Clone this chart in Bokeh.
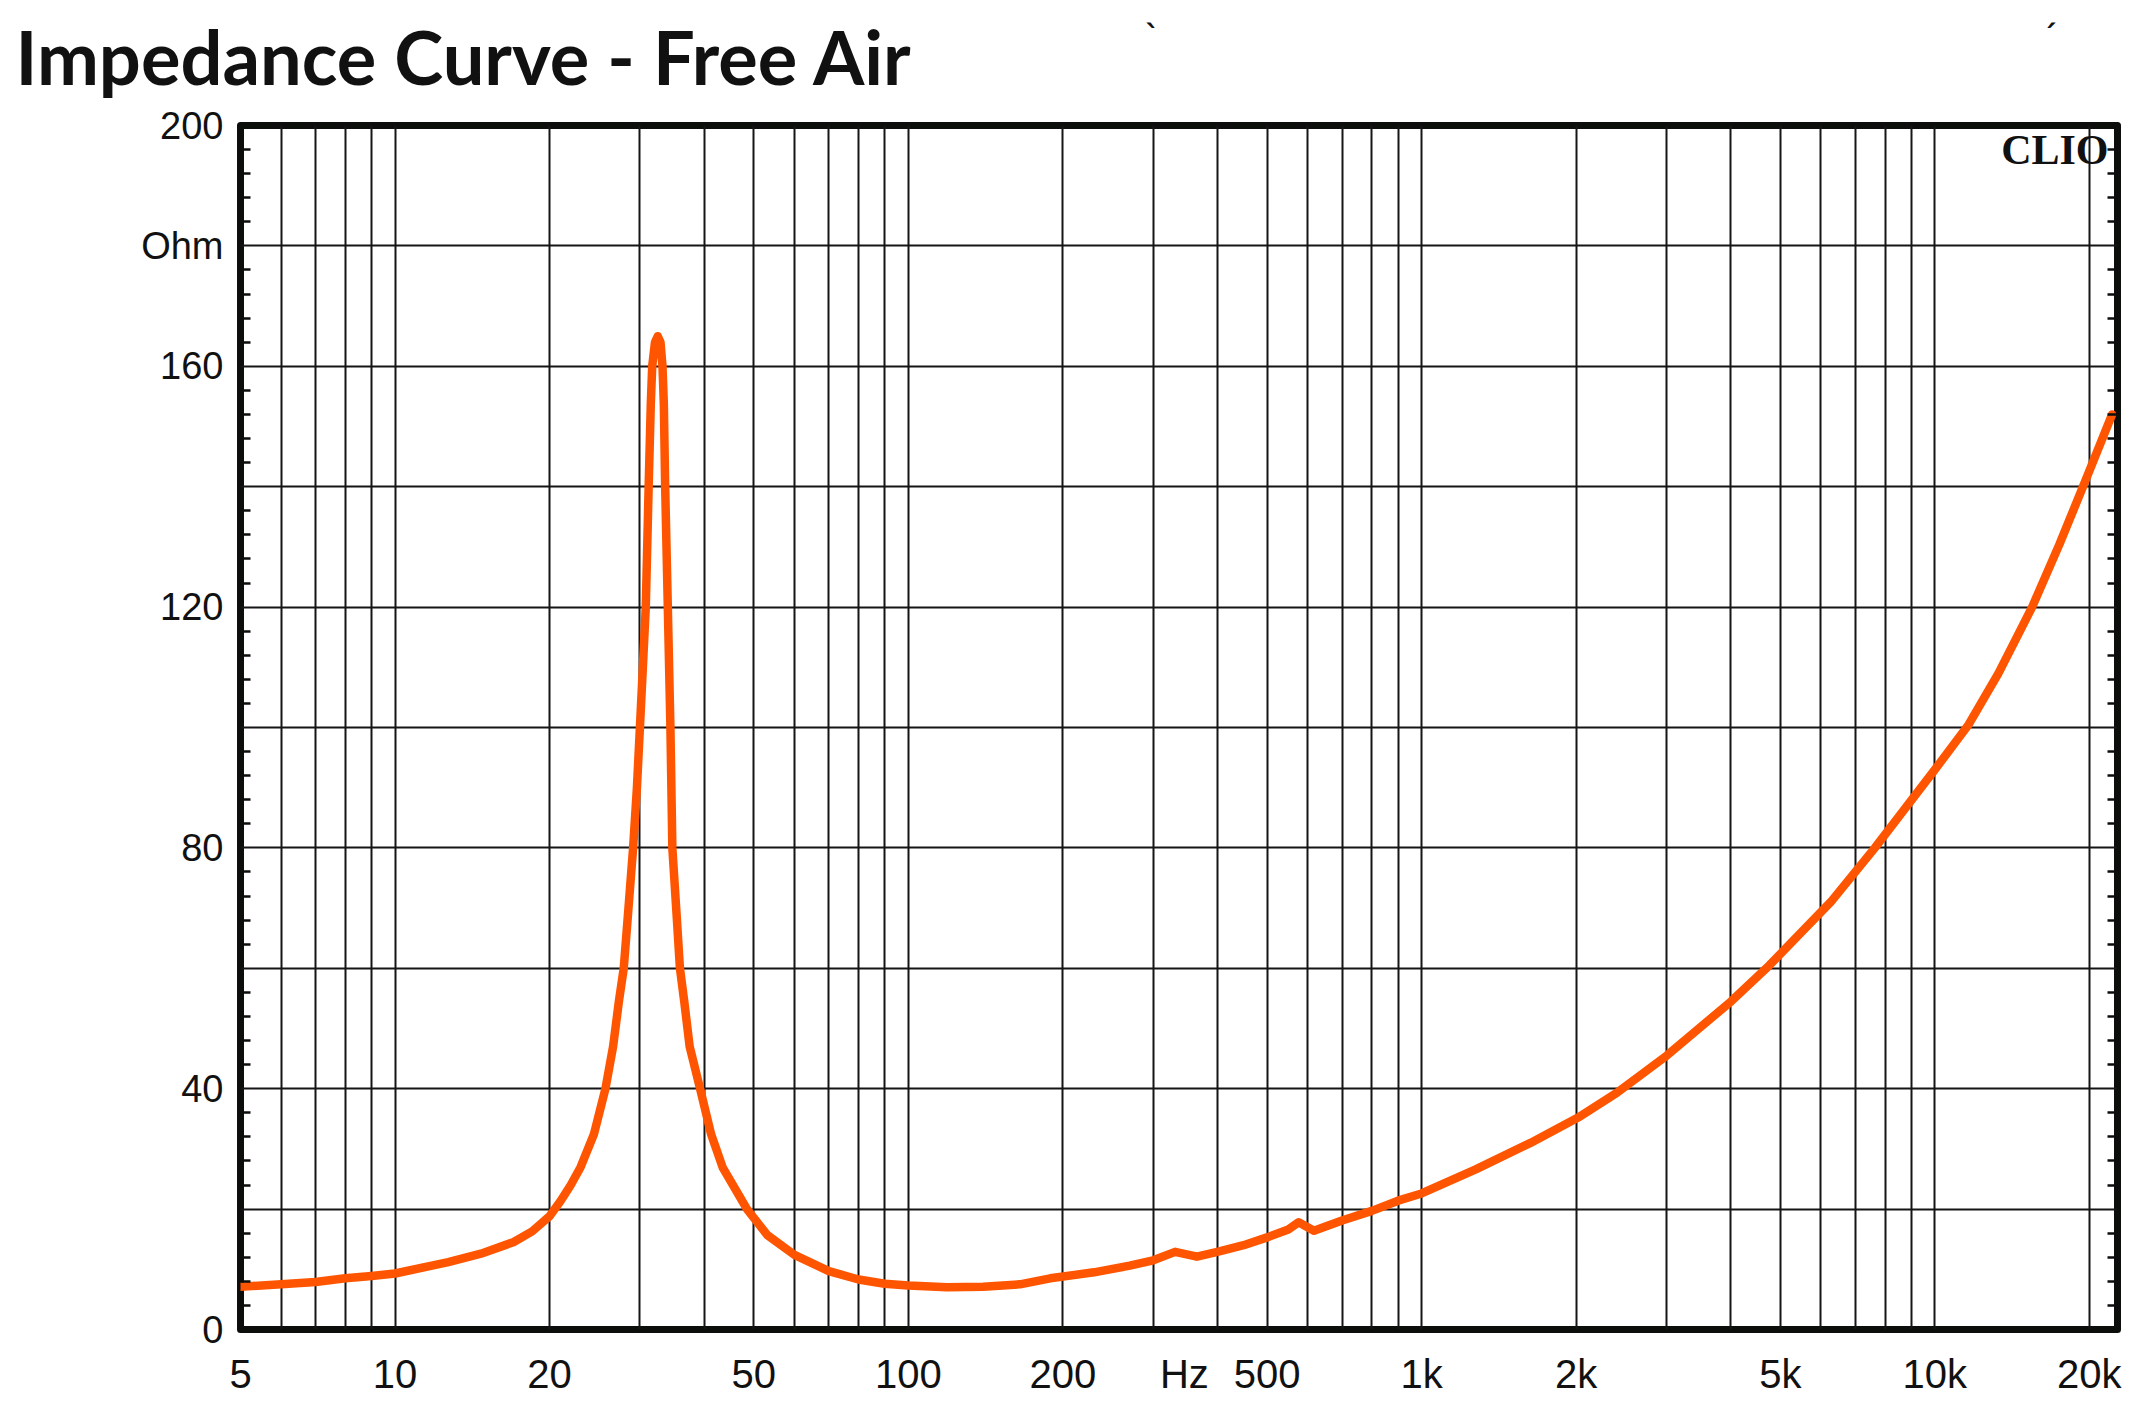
from bokeh.plotting import figure
from bokeh.models import FixedTicker, LinearAxis, Label, Range1d
from bokeh.layouts import column
from bokeh.core.properties import value
from bokeh.embed import file_html
from bokeh.resources import INLINE

# ---- data ----
freq_hz = [5, 6, 7, 8, 9, 10, 12.7, 14.7, 17.0, 18.5, 20.0, 21.0, 22.0, 23.0, 24.4, 25.7,
           26.6, 27.3, 27.9, 28.5, 29.1, 29.6, 30.0, 30.4, 30.8, 31.2, 31.5, 31.7, 32.1,
           32.5, 32.9, 33.2, 33.4, 33.6, 34.0, 34.4, 34.7, 35.3, 35.9, 36.6, 37.5, 39.3,
           41.3, 43.5, 48.5, 53.1, 60, 70, 80, 90, 100, 119, 140, 165, 189, 230, 270, 300,
           331, 365, 400, 450, 500, 550, 576, 617, 700, 800, 900, 1000, 1275, 1630,
           2018, 2400, 3004, 4008, 4760, 6267, 7640, 10000, 11640, 13300, 15470, 17500,
           19650, 22150]
impedance_ohm = [7.1, 7.5, 7.9, 8.5, 8.9, 9.3, 11.2, 12.6, 14.5, 16.3, 18.8, 21.3, 24.0, 27.0,
                 32.4, 40.0, 47.0, 54.5, 60.0, 70.0, 80.0, 90.0, 100.0, 110.0, 120.0, 140.0,
                 153.7, 160.0, 164.0, 165.0, 164.0, 160.0, 153.7, 140.0, 120.0, 100.0, 80.0,
                 70.0, 60.0, 54.5, 47.0, 40.0, 32.4, 26.9, 20.0, 15.7, 12.4, 9.7, 8.3, 7.6,
                 7.3, 7.0, 7.1, 7.5, 8.5, 9.5, 10.6, 11.5, 12.9, 12.1, 12.9, 14.0, 15.3, 16.6,
                 17.8, 16.4, 18.1, 19.7, 21.4, 22.6, 26.6, 31.0, 35.2, 39.3, 45.5, 54.5,
                 60.5, 71.0, 80.0, 93.0, 100.5, 109.0, 120.0, 130.5, 141.0, 152.0]

x_label_ticks = [5, 10, 20, 50, 100, 200, 345, 500, 1000, 2000, 5000, 10000, 20000]
x_label_texts = ["5", "10", "20", "50", "100", "200", "Hz", "500", "1k", "2k", "5k", "10k", "20k"]
x_grid_ticks = [6, 7, 8, 9, 10, 20, 30, 40, 50, 60, 70, 80, 90, 100, 200, 300, 400, 500, 600,
                700, 800, 900, 1000, 2000, 3000, 4000, 5000, 6000, 7000, 8000, 9000, 10000, 20000]
y_label_ticks = [0, 40, 80, 120, 160, 180, 200]
y_label_texts = ["0", "40", "80", "120", "160", "Ohm", "200"]
y_grid_ticks = [0, 20, 40, 60, 80, 100, 120, 140, 160, 180, 200]
y_minor_ticks = [v for v in range(4, 200, 4) if v % 20 != 0]

TITLE = "Impedance Curve - Free Air"
FRAME_COLOR = "#0c0e0c"
GRID_COLOR = "#151515"
CURVE_COLOR = "#ff5500"
TEXT_COLOR = "#111111"

W = 2126
HEAD_H = 102
MAIN_H = 1296

# ---- header strip holding the title ----
head = figure(width=W, height=HEAD_H, x_range=Range1d(0, W), y_range=Range1d(0, HEAD_H),
              output_backend="svg", toolbar_location=None, title_location=None,
              x_axis_location=None, y_axis_location=None,
              min_border=0, min_border_left=0, min_border_right=0,
              min_border_top=0, min_border_bottom=0)
head.frame_align = False
head.outline_line_color = None
head.xgrid.visible = False
head.ygrid.visible = False
head.text(x=[15], y=[46], text=[TITLE], text_font=value("Lato"), text_font_style="bold",
          text_font_size="74px", text_color=TEXT_COLOR,
          text_align="left", text_baseline="alphabetic")
head.text(x=[1152, 2049], y=[66, 66], text=["ˋ", "ˊ"], text_font=value("DejaVu Sans"),
          text_font_style="bold", text_font_size="30px", text_color=TEXT_COLOR,
          text_align="center", text_baseline="middle")

# ---- main chart ----
p = figure(width=W, height=MAIN_H, x_axis_type="log",
           x_range=Range1d(5, 22690), y_range=Range1d(0, 200),
           output_backend="svg", toolbar_location=None,
           min_border_left=240, min_border_right=9,
           min_border_top=23, min_border_bottom=67)
p.frame_align = False

p.background_fill_color = "white"
p.border_fill_color = "white"
p.outline_line_color = FRAME_COLOR
p.outline_line_width = 7
p.outline_line_alpha = 1.0
p.outline_line_join = "round"

# grids
p.xgrid.ticker = FixedTicker(ticks=x_grid_ticks)
p.ygrid.ticker = FixedTicker(ticks=y_grid_ticks)
for g in (p.xgrid[0], p.ygrid[0]):
    g.grid_line_color = GRID_COLOR
    g.grid_line_width = 2
    g.grid_line_alpha = 1.0

# x axis
xa = p.xaxis[0]
xa.ticker = FixedTicker(ticks=x_label_ticks)
xa.major_label_overrides = {t: s for t, s in zip(x_label_ticks, x_label_texts)}
xa.axis_line_color = None
xa.major_tick_line_color = None
xa.minor_tick_line_color = None
xa.major_tick_out = 0
xa.major_tick_in = 0
xa.minor_tick_out = 0
xa.major_label_standoff = 22
xa.major_label_text_font = "Liberation Sans"
xa.major_label_text_font_size = "40px"
xa.major_label_text_color = TEXT_COLOR

# y axis (left)
ya = p.yaxis[0]
ya.ticker = FixedTicker(ticks=y_label_ticks, minor_ticks=y_minor_ticks)
ya.major_label_overrides = {t: s for t, s in zip(y_label_ticks, y_label_texts)}
ya.axis_line_color = None
ya.major_tick_line_color = None
ya.major_tick_out = 0
ya.major_tick_in = 0
ya.minor_tick_line_color = FRAME_COLOR
ya.minor_tick_line_width = 2.5
ya.minor_tick_in = 10
ya.minor_tick_out = 0
ya.major_label_standoff = 17
ya.major_label_text_font = "Liberation Sans"
ya.major_label_text_font_size = "38px"
ya.major_label_text_color = TEXT_COLOR

# right axis: only inward minor ticks, no labels
ra = LinearAxis(ticker=FixedTicker(ticks=[], minor_ticks=y_minor_ticks))
ra.axis_line_color = None
ra.major_tick_line_color = None
ra.major_tick_out = 0
ra.major_tick_in = 0
ra.minor_tick_line_color = FRAME_COLOR
ra.minor_tick_line_width = 2.5
ra.minor_tick_in = 10
ra.minor_tick_out = 0
ra.major_label_standoff = 0
p.add_layout(ra, "right")

# curve
p.line(freq_hz, impedance_ohm, line_color=CURVE_COLOR, line_width=8.5,
       line_join="round", line_cap="round")

# CLIO mark (screen units relative to the frame's bottom-left)
p.add_layout(Label(x=1868, y=1180, x_units="screen", y_units="screen", text="CLIO",
                   text_font="Liberation Serif", text_font_style="bold",
                   text_font_size="42px", text_color=TEXT_COLOR,
                   text_align="right", text_baseline="alphabetic"))

layout = column(head, p, spacing=0)
open("out.html", "w").write(file_html(layout, INLINE))
